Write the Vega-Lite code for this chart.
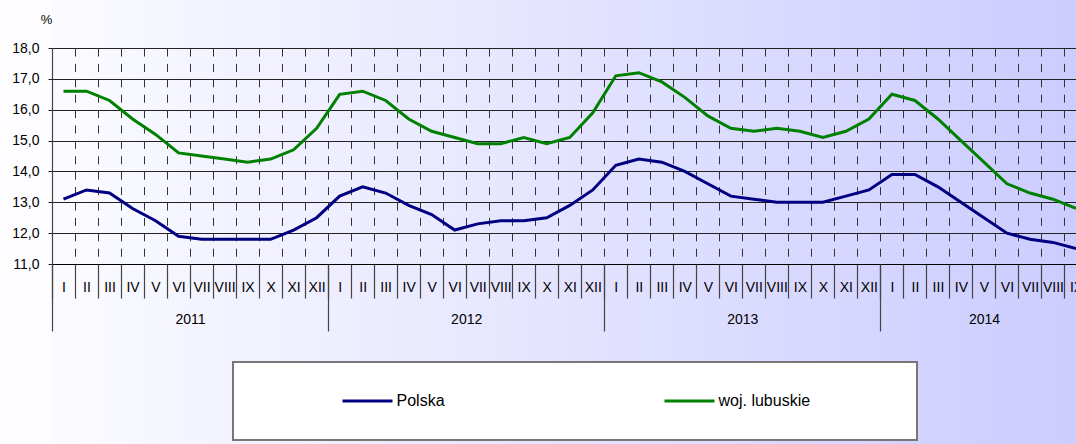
{
  "$schema": "https://vega.github.io/schema/vega-lite/v6.json",
  "width": 1024,
  "height": 444,
  "autosize": "none",
  "padding": {"left": 52, "top": 0, "right": 0, "bottom": 0},
  "background": "#fdfdff",
  "view": {"stroke": null, "fill": {"gradient": "linear", "x1": 0, "y1": 0, "x2": 1, "y2": 0, "stops": [{"offset": 0, "color": "#fbfbff"}, {"offset": 1, "color": "#ccccff"}]}},
  "config": {"font": "Liberation Sans", "legend": {"strokeWidth": 2}},
  "data": {"values": [
    {"i":0,"series":"Polska","v":13.1},{"i":1,"series":"Polska","v":13.4},{"i":2,"series":"Polska","v":13.3},{"i":3,"series":"Polska","v":12.8},{"i":4,"series":"Polska","v":12.4},{"i":5,"series":"Polska","v":11.9},{"i":6,"series":"Polska","v":11.8},{"i":7,"series":"Polska","v":11.8},{"i":8,"series":"Polska","v":11.8},{"i":9,"series":"Polska","v":11.8},{"i":10,"series":"Polska","v":12.1},{"i":11,"series":"Polska","v":12.5},
    {"i":12,"series":"Polska","v":13.2},{"i":13,"series":"Polska","v":13.5},{"i":14,"series":"Polska","v":13.3},{"i":15,"series":"Polska","v":12.9},{"i":16,"series":"Polska","v":12.6},{"i":17,"series":"Polska","v":12.1},{"i":18,"series":"Polska","v":12.3},{"i":19,"series":"Polska","v":12.4},{"i":20,"series":"Polska","v":12.4},{"i":21,"series":"Polska","v":12.5},{"i":22,"series":"Polska","v":12.9},{"i":23,"series":"Polska","v":13.4},
    {"i":24,"series":"Polska","v":14.2},{"i":25,"series":"Polska","v":14.4},{"i":26,"series":"Polska","v":14.3},{"i":27,"series":"Polska","v":14.0},{"i":28,"series":"Polska","v":13.6},{"i":29,"series":"Polska","v":13.2},{"i":30,"series":"Polska","v":13.1},{"i":31,"series":"Polska","v":13.0},{"i":32,"series":"Polska","v":13.0},{"i":33,"series":"Polska","v":13.0},{"i":34,"series":"Polska","v":13.2},{"i":35,"series":"Polska","v":13.4},
    {"i":36,"series":"Polska","v":13.9},{"i":37,"series":"Polska","v":13.9},{"i":38,"series":"Polska","v":13.5},{"i":39,"series":"Polska","v":13.0},{"i":40,"series":"Polska","v":12.5},{"i":41,"series":"Polska","v":12.0},{"i":42,"series":"Polska","v":11.8},{"i":43,"series":"Polska","v":11.7},{"i":44,"series":"Polska","v":11.5},
    {"i":0,"series":"woj. lubuskie","v":16.6},{"i":1,"series":"woj. lubuskie","v":16.6},{"i":2,"series":"woj. lubuskie","v":16.3},{"i":3,"series":"woj. lubuskie","v":15.7},{"i":4,"series":"woj. lubuskie","v":15.2},{"i":5,"series":"woj. lubuskie","v":14.6},{"i":6,"series":"woj. lubuskie","v":14.5},{"i":7,"series":"woj. lubuskie","v":14.4},{"i":8,"series":"woj. lubuskie","v":14.3},{"i":9,"series":"woj. lubuskie","v":14.4},{"i":10,"series":"woj. lubuskie","v":14.7},{"i":11,"series":"woj. lubuskie","v":15.4},
    {"i":12,"series":"woj. lubuskie","v":16.5},{"i":13,"series":"woj. lubuskie","v":16.6},{"i":14,"series":"woj. lubuskie","v":16.3},{"i":15,"series":"woj. lubuskie","v":15.7},{"i":16,"series":"woj. lubuskie","v":15.3},{"i":17,"series":"woj. lubuskie","v":15.1},{"i":18,"series":"woj. lubuskie","v":14.9},{"i":19,"series":"woj. lubuskie","v":14.9},{"i":20,"series":"woj. lubuskie","v":15.1},{"i":21,"series":"woj. lubuskie","v":14.9},{"i":22,"series":"woj. lubuskie","v":15.1},{"i":23,"series":"woj. lubuskie","v":15.9},
    {"i":24,"series":"woj. lubuskie","v":17.1},{"i":25,"series":"woj. lubuskie","v":17.2},{"i":26,"series":"woj. lubuskie","v":16.9},{"i":27,"series":"woj. lubuskie","v":16.4},{"i":28,"series":"woj. lubuskie","v":15.8},{"i":29,"series":"woj. lubuskie","v":15.4},{"i":30,"series":"woj. lubuskie","v":15.3},{"i":31,"series":"woj. lubuskie","v":15.4},{"i":32,"series":"woj. lubuskie","v":15.3},{"i":33,"series":"woj. lubuskie","v":15.1},{"i":34,"series":"woj. lubuskie","v":15.3},{"i":35,"series":"woj. lubuskie","v":15.7},
    {"i":36,"series":"woj. lubuskie","v":16.5},{"i":37,"series":"woj. lubuskie","v":16.3},{"i":38,"series":"woj. lubuskie","v":15.7},{"i":39,"series":"woj. lubuskie","v":15.0},{"i":40,"series":"woj. lubuskie","v":14.3},{"i":41,"series":"woj. lubuskie","v":13.6},{"i":42,"series":"woj. lubuskie","v":13.3},{"i":43,"series":"woj. lubuskie","v":13.1},{"i":44,"series":"woj. lubuskie","v":12.8}
  ]},
  "resolve": {"axis": {"x": "independent"}, "scale": {"x": "shared"}},
  "layer": [
    {
      "mark": {"type": "line", "strokeWidth": 3},
      "encoding": {
        "x": {"field": "i", "type": "quantitative", "scale": {"domain": [-0.5, 44], "nice": false, "zero": false},
          "axis": {"orient": "bottom", "offset": -180, "values": [-0.5,0.5,1.5,2.5,3.5,4.5,5.5,6.5,7.5,8.5,9.5,10.5,11.5,12.5,13.5,14.5,15.5,16.5,17.5,18.5,19.5,20.5,21.5,22.5,23.5,24.5,25.5,26.5,27.5,28.5,29.5,30.5,31.5,32.5,33.5,34.5,35.5,36.5,37.5,38.5,39.5,40.5,41.5,42.5,43.5],
            "domain": true, "domainColor": "#000", "domainWidth": 1, "ticks": true, "tickSize": 34, "tickColor": "#444", "tickWidth": 1.2, "grid": false,
            "labelExpr": "['I','II','III','IV','V','VI','VII','VIII','IX','X','XI','XII'][round(datum.value + 0.5) % 12]",
            "labelOffset": 11.5, "labelBaseline": "middle", "labelPadding": -11, "labelFontSize": 14, "labelColor": "#000", "labelFlush": false, "labelOverlap": false, "labelBound": false, "title": null}},
        "y": {"field": "v", "type": "quantitative", "scale": {"domain": [5.16667, 19.55556], "nice": false, "zero": false},
          "axis": {"values": [11,12,13,14,15,16,17,18], "domain": false, "ticks": true, "tickSize": 4, "tickColor": "#222", "grid": true, "gridColor": "#222", "gridWidth": 1, "gridOpacity": 1,
            "labelExpr": "replace(format(datum.value, '.1f'), '.', ',')", "labelFontSize": 14, "labelColor": "#000", "labelPadding": 9,
            "title": "%", "titleAngle": 0, "titleX": -6, "titleY": 19, "titleAlign": "center", "titleBaseline": "middle", "titleFontSize": 13, "titleFontWeight": "normal", "titleColor": "#000"}},
        "color": {"field": "series", "type": "nominal", "scale": {"domain": ["Polska", "woj. lubuskie"], "range": ["#000080", "#008000"]},
          "legend": {"orient": "none", "legendX": 181, "legendY": 362, "direction": "horizontal", "title": "\u00a0", "titleOrient": "right", "titlePadding": 76, "titleFontSize": 16, "symbolType": "stroke", "symbolSize": 2500, "symbolStrokeWidth": 3, "symbolOffset": 77, "labelOffset": 2.5, "clipHeight": 16, "columnPadding": 141, "padding": 31, "fillColor": "#ffffff", "strokeColor": "#777777", "labelFontSize": 16, "labelColor": "#000", "labelLimit": 500}}
      }
    },
    {
      "mark": {"type": "point", "opacity": 0},
      "encoding": {
        "x": {"field": "i", "type": "quantitative", "scale": {"domain": [-0.5, 44], "nice": false, "zero": false},
          "axis": {"orient": "bottom", "offset": -180, "values": [11.5, 23.5, 35.5], "domain": false, "ticks": true, "tickSize": 67, "tickColor": "#444", "tickWidth": 1.2, "labels": false, "grid": false, "title": null}}
      }
    },
    {
      "mark": {"type": "point", "opacity": 0},
      "encoding": {
        "x": {"field": "i", "type": "quantitative", "scale": {"domain": [-0.5, 44], "nice": false, "zero": false},
          "axis": {"orient": "bottom", "offset": -180, "values": [5.5, 17.5, 29.5, 40], "domain": false, "ticks": false, "grid": false,
            "labelExpr": "toString(2011 + floor((datum.value + 0.5) / 12))", "labelPadding": 55, "labelBaseline": "middle", "labelFontSize": 14, "labelColor": "#000", "labelFlush": false, "labelOverlap": false, "title": null}}
      }
    },
    {
      "mark": {"type": "point", "opacity": 0},
      "encoding": {
        "x": {"field": "i", "type": "quantitative", "scale": {"domain": [-0.5, 44], "nice": false, "zero": false},
          "axis": {"orient": "top", "offset": -48, "values": [0.5,1.5,2.5,3.5,4.5,5.5,6.5,7.5,8.5,9.5,10.5,11.5,12.5,13.5,14.5,15.5,16.5,17.5,18.5,19.5,20.5,21.5,22.5,23.5,24.5,25.5,26.5,27.5,28.5,29.5,30.5,31.5,32.5,33.5,34.5,35.5,36.5,37.5,38.5,39.5,40.5,41.5,42.5,43.5],
            "domain": false, "ticks": true, "tickSize": -216, "tickDash": [8, 7.4], "tickColor": "#333", "tickWidth": 1, "labels": false, "grid": false, "title": null}}
      }
    },
    {
      "mark": {"type": "point", "opacity": 0},
      "encoding": {
        "x": {"field": "i", "type": "quantitative", "scale": {"domain": [-0.5, 44], "nice": false, "zero": false},
          "axis": {"orient": "top", "offset": -48, "values": [-0.5], "domain": false, "ticks": true, "tickSize": -283, "tickColor": "#444", "tickWidth": 1.2, "labels": false, "grid": false, "title": null}}
      }
    }
  ]
}
